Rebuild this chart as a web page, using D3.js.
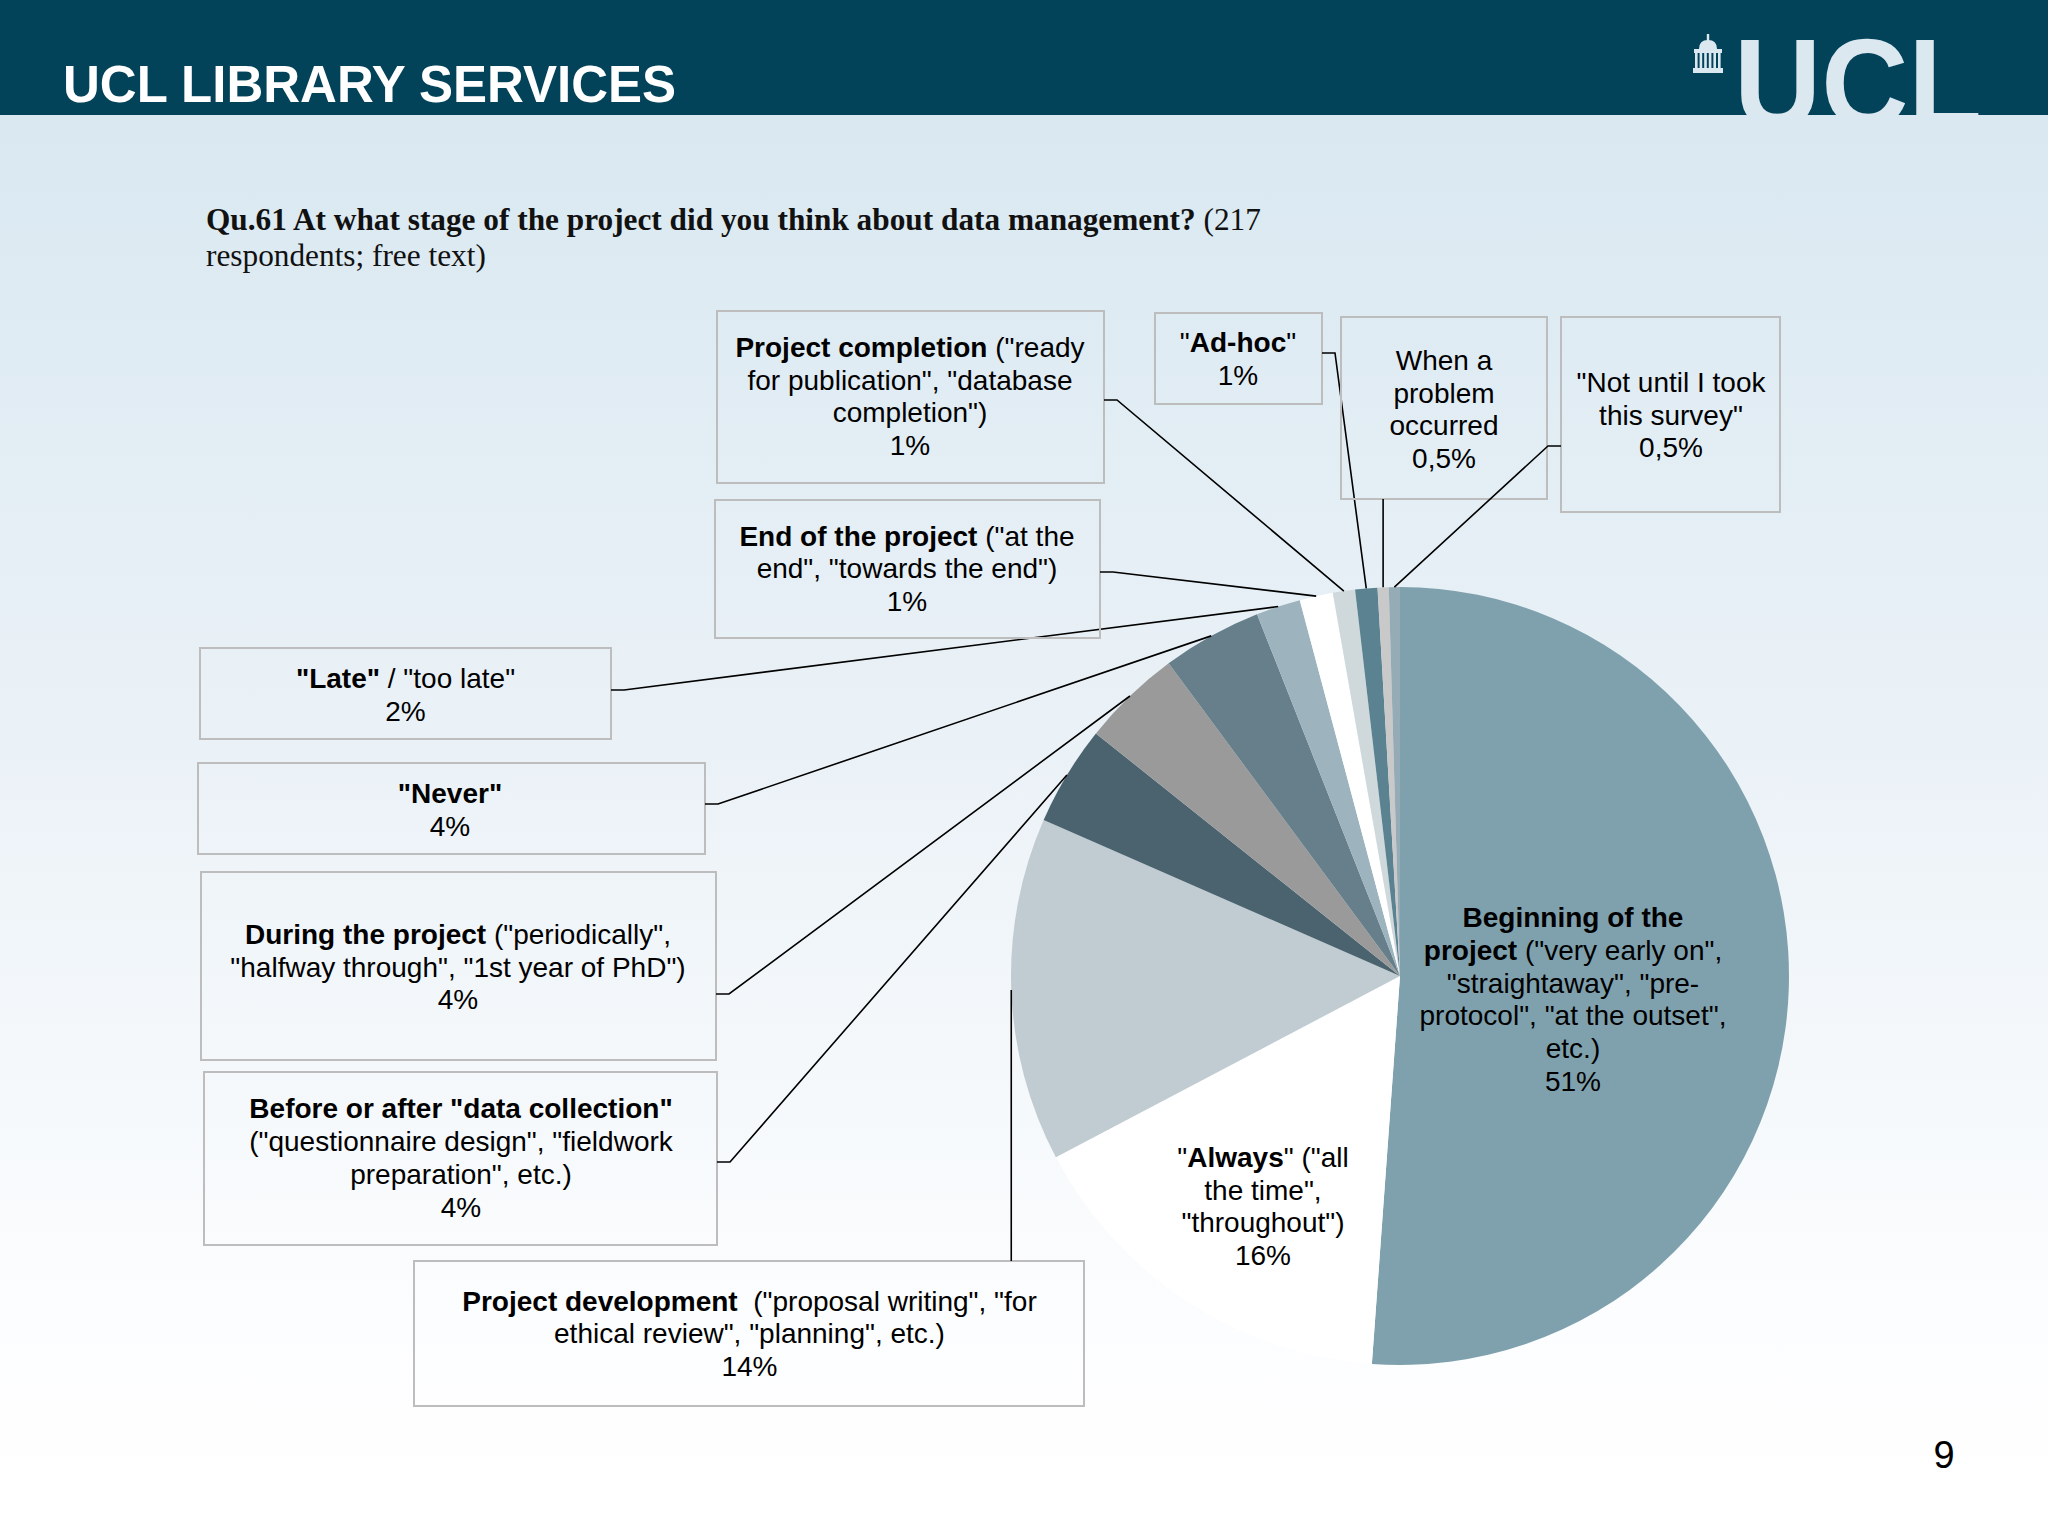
<!DOCTYPE html>
<html><head><meta charset="utf-8">
<script src="https://cdn.jsdelivr.net/npm/d3@7"></script>
<style>html,body{margin:0;padding:0;background:#fff;} svg{display:block;}</style>
</head><body>
<svg id="c" width="2048" height="1536"></svg>
<script>
// ---------- DATA ----------
const categories = [
  "Beginning of the project", "\"Always\"", "Project development",
  "Before or after \"data collection\"", "During the project", "\"Never\"",
  "\"Late\" / \"too late\"", "End of the project", "Project completion",
  "\"Ad-hoc\"", "When a problem occurred", "\"Not until I took this survey\""
];
// estimated respondents (of 217) per stage
const respondents = [111, 35, 31, 9, 9, 9, 4, 3, 2, 2, 1, 1];
const percentLabels = ["51%", "16%", "14%", "4%", "4%", "4%", "2%", "1%", "1%", "1%", "0,5%", "0,5%"];
// label text lines, segments: [text, bold]
const labelLines = [
  [[["Beginning of the", 1]], [["project", 1], [" (\"very early on\",", 0]], [["\"straightaway\", \"pre-", 0]], [["protocol\", \"at the outset\",", 0]], [["etc.)", 0]]],
  [[["\"", 0], ["Always", 1], ["\" (\"all", 0]], [["the time\",", 0]], [["\"throughout\")", 0]]],
  [[["Project development", 1], ["  (\"proposal writing\", \"for", 0]], [["ethical review\", \"planning\", etc.)", 0]]],
  [[["Before or after \"data collection\"", 1]], [["(\"questionnaire design\", \"fieldwork", 0]], [["preparation\", etc.)", 0]]],
  [[["During the project", 1], [" (\"periodically\",", 0]], [["\"halfway through\", \"1st year of PhD\")", 0]]],
  [[["\"Never\"", 1]]],
  [[["\"Late\"", 1], [" / \"too late\"", 0]]],
  [[["End of the project", 1], [" (\"at the", 0]], [["end\", \"towards the end\")", 0]]],
  [[["Project completion", 1], [" (\"ready", 0]], [["for publication\", \"database", 0]], [["completion\")", 0]]],
  [[["\"", 0], ["Ad-hoc", 1], ["\"", 0]]],
  [[["When a", 0]], [["problem", 0]], [["occurred", 0]]],
  [[["\"Not until I took", 0]], [["this survey\"", 0]]]
];
const headerTitle = "UCL LIBRARY SERVICES";
const questionBold = "Qu.61 At what stage of the project did you think about data management?";
const questionRest = " (217";
const questionLine2 = "respondents; free text)";
const pageNumber = "9";

// ---------- STYLE / LAYOUT ----------
const sliceColors = ["#7fa1ae", "#ffffff", "#c0ccd2", "#4a636e", "#9a9a9a", "#667f8a",
                     "#9db4be", "#ffffff", "#cfd9dc", "#5b8290", "#c9c9c9", "#95acb6"];
const layout = [
  {inside: true, cx: 1573, y0: 927.3},
  {inside: true, cx: 1263, y0: 1167},
  {box: [414, 1261, 1084, 1406], cx: 749.5, y0: 1310.7, anchor: "top"},
  {box: [204, 1072, 717, 1245], cx: 461, y0: 1118.4, anchor: "right", ay: 1162},
  {box: [201, 872, 716, 1060], cx: 458, y0: 944, anchor: "right", ay: 994},
  {box: [198, 763, 705, 854], cx: 450, y0: 803, anchor: "right", ay: 804},
  {box: [200, 648, 611, 739], cx: 405.5, y0: 688, anchor: "right", ay: 690},
  {box: [715, 500, 1100, 638], cx: 907, y0: 545.7, anchor: "right", ay: 572},
  {box: [717, 311, 1104, 483], cx: 910, y0: 357, anchor: "right", ay: 400},
  {box: [1155, 313, 1322, 404], cx: 1238, y0: 352.3, anchor: "right", ay: 353},
  {box: [1341, 317, 1547, 499], cx: 1444, y0: 370, anchor: "bottom"},
  {box: [1561, 317, 1780, 512], cx: 1671, y0: 392, anchor: "left", ay: 446}
];
const W = 2048, H = 1536, headerH = 115;
const cx = 1400, cy = 976, R = 389;
const lineH = 32.7;
const sans = "'Liberation Sans', Arial, sans-serif";
const serif = "'Liberation Serif', 'Times New Roman', serif";

const svg = d3.select("#c");
const defs = svg.append("defs");
const grad = defs.append("linearGradient").attr("id", "bg").attr("x1", 0).attr("y1", 0).attr("x2", 0).attr("y2", 1);
grad.append("stop").attr("offset", "0%").attr("stop-color", "#d9e8f1");
grad.append("stop").attr("offset", "45%").attr("stop-color", "#ebf2f7");
grad.append("stop").attr("offset", "85%").attr("stop-color", "#fcfdfe");
grad.append("stop").attr("offset", "100%").attr("stop-color", "#ffffff");
defs.append("clipPath").attr("id", "hdrclip").append("rect").attr("x", 0).attr("y", 0).attr("width", W).attr("height", headerH);

svg.append("rect").attr("x", 0).attr("y", headerH).attr("width", W).attr("height", H - headerH).attr("fill", "url(#bg)");

// header
svg.append("rect").attr("x", 0).attr("y", 0).attr("width", W).attr("height", headerH).attr("fill", "#03435a");
svg.append("text").attr("x", 63).attr("y", 102).attr("font-family", sans).attr("font-weight", "bold")
  .attr("font-size", 51).attr("fill", "#ffffff").text(headerTitle);
const logo = svg.append("g").attr("clip-path", "url(#hdrclip)").attr("fill", "#dbe8f0");
logo.append("text").attr("x", 1734).attr("y", 127).attr("font-family", sans).attr("font-weight", "bold")
  .attr("font-size", 126).attr("textLength", 248).attr("lengthAdjust", "spacingAndGlyphs").text("UCL");
// small portico icon
const ic = svg.append("g").attr("fill", "#dbe8f0");
ic.append("rect").attr("x", 1693).attr("y", 68).attr("width", 30).attr("height", 5);
ic.append("rect").attr("x", 1694).attr("y", 49).attr("width", 28).attr("height", 4);
d3.range(6).forEach(i => ic.append("rect").attr("x", 1695 + i * 4.6).attr("y", 53).attr("width", 2.6).attr("height", 15));
ic.append("path").attr("d", "M1699,49 Q1699,40 1708,40 Q1717,40 1717,49 Z");
ic.append("rect").attr("x", 1706.8).attr("y", 34).attr("width", 2.4).attr("height", 7);

// question title
const qt = svg.append("text").attr("x", 206).attr("y", 230).attr("font-family", serif).attr("font-size", 31.3).attr("fill", "#111");
qt.append("tspan").attr("font-weight", "bold").text(questionBold);
qt.append("tspan").text(questionRest);
svg.append("text").attr("x", 206).attr("y", 266).attr("font-family", serif).attr("font-size", 31.3).attr("fill", "#111").text(questionLine2);

// pie
const pie = d3.pie().sort(null).value(d => d).startAngle(0).endAngle(2 * Math.PI);
const arcs = pie(respondents);
const arc = d3.arc().innerRadius(0).outerRadius(R);
const edge = d3.arc().innerRadius(R).outerRadius(R);
const g = svg.append("g").attr("transform", `translate(${cx},${cy})`);
g.selectAll("path.slice").data(arcs).join("path").attr("class", "slice")
  .attr("d", arc).attr("fill", (d, i) => sliceColors[i]);

// boxes, leader lines, labels
const fs = 28;
arcs.forEach((a, i) => {
  const L = layout[i];
  const [ex, ey] = edge.centroid(a);
  const px = cx + ex, py = cy + ey;
  if (L.box) {
    const [x0, y0, x1, y1] = L.box;
    svg.append("rect").attr("x", x0).attr("y", y0).attr("width", x1 - x0).attr("height", y1 - y0)
      .attr("fill", "none").attr("stroke", "#bdbdbd").attr("stroke-width", 2);
    let d;
    if (L.anchor === "right") d = `M${x1},${L.ay}H${x1 + 13}L${px},${py}`;
    else if (L.anchor === "left") d = `M${x0},${L.ay}H${x0 - 13}L${px},${py}`;
    else if (L.anchor === "top") d = `M${px},${y0}L${px},${py}`;
    else d = `M${px},${y1}L${px},${py}`;
    svg.append("path").attr("d", d).attr("fill", "none").attr("stroke", "#000").attr("stroke-width", 1.6);
  }
  const lines = labelLines[i].concat([[[percentLabels[i], 0]]]);
  lines.forEach((segs, k) => {
    const t = svg.append("text").attr("x", L.cx).attr("y", L.y0 + k * lineH)
      .attr("text-anchor", "middle").attr("font-family", sans).attr("font-size", fs).attr("fill", "#000")
      .attr("xml:space", "preserve").style("white-space", "pre");
    segs.forEach(s => t.append("tspan").attr("font-weight", s[1] ? "bold" : "normal").text(s[0]));
  });
});

// page number
svg.append("text").attr("x", 1944).attr("y", 1468).attr("text-anchor", "middle").attr("font-family", sans)
  .attr("font-size", 38).attr("fill", "#000").text(pageNumber);
</script>
</body></html>
